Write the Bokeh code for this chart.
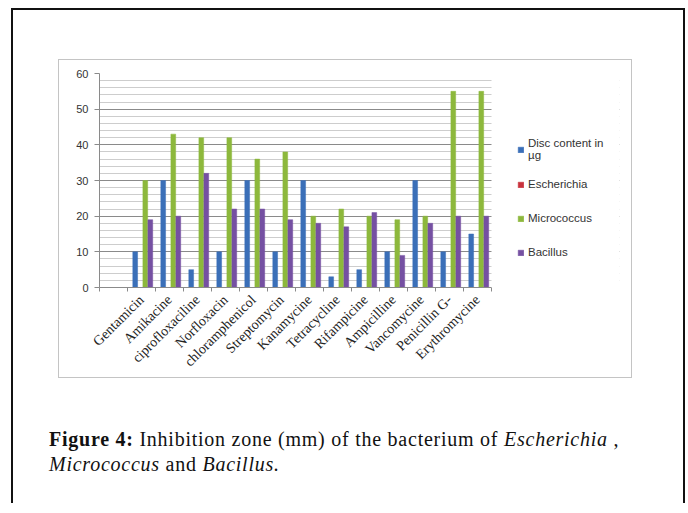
from math import pi
from bokeh.plotting import figure
from bokeh.models import (Range1d, LinearAxis, FixedTicker, Legend, LegendItem, Div,
                          ColumnDataSource, Grid, CustomJSTickFormatter, BoxAnnotation)
from bokeh.transform import dodge
from bokeh.layouts import column
from bokeh.embed import file_html
from bokeh.resources import INLINE

# ---------------- data ----------------
antibiotics = ["Gentamicin", "Amikacine", "ciprofloxaciline", "Norfloxacin", "chloramphenicol",
               "Streptomycin", "Kanamycine", "Tetracycline", "Rifampicine", "Ampicilline",
               "Vancomycine", "Penicillin G-", "Erythromycine"]
disc_content = [10, 30, 5, 10, 30, 10, 30, 3, 5, 10, 30, 10, 15]
escherichia = [0, 0, 0, 0, 0, 0, 0, 0, 0, 0, 0, 0, 0]
micrococcus = [30, 43, 42, 42, 36, 38, 20, 22, 20, 19, 20, 55, 55]
bacillus = [19, 20, 32, 22, 22, 19, 18, 17, 21, 9, 18, 20, 20]
series_names = ["Disc content in\nµg", "Escherichia", "Micrococcus", "Bacillus"]
y_ticks = [0, 10, 20, 30, 40, 50, 60]
y_minor = [0, 2, 4, 6, 8, 10, 12, 14, 16, 18, 20, 22, 24, 26, 28, 30, 32, 34, 36, 38, 40,
           42, 44, 46, 48, 50, 52, 54, 56, 58, 60]

# ---------------- styles ----------------
colors = ["#3a6fb8", "#c8323c", "#8db83c", "#7550a2"]
offsets = [-0.225, -0.045, 0.135, 0.315]
bar_w = 0.17

# category slots: the first slot of the axis is empty, antibiotics occupy slots 1..13
n_slots = len(antibiotics) + 1
centers = [i + 1.5 for i in range(len(antibiotics))]
src = ColumnDataSource(dict(center=centers, disc=disc_content, esch=escherichia,
                            micro=micrococcus, bac=bacillus))

# the frame also holds the legend area to the right of the category slots
frame_w = 572 - 40 - 12
x_end = n_slots * frame_w / 392

p = figure(x_range=Range1d(0, x_end), y_range=Range1d(0, 60),
           width=572, height=317,
           min_border_left=40, min_border_right=12, min_border_top=13, min_border_bottom=88,
           x_axis_location=None, y_axis_location=None,
           output_backend="svg", toolbar_location=None,
           outline_line_color=None, background_fill_color="white", border_fill_color="white")
p.grid.visible = False

yticker = FixedTicker(ticks=y_ticks, minor_ticks=y_minor)
p.add_layout(Grid(dimension=1, ticker=yticker, grid_line_color="#8a8a8a", grid_line_width=1,
                  minor_grid_line_color="#cdcdcd", minor_grid_line_width=1))

yaxis = LinearAxis(ticker=yticker, axis_line_color="#8a8a8a", major_tick_line_color="#8a8a8a",
                   major_tick_out=5, major_tick_in=0, minor_tick_out=0, minor_tick_in=0,
                   major_label_text_font="Liberation Sans", major_label_text_font_size="11px",
                   major_label_text_color="#333333", major_label_standoff=6)
p.add_layout(yaxis, "left")

# tick marks at the category boundaries
bnd_axis = LinearAxis(ticker=FixedTicker(ticks=list(range(n_slots + 1))), bounds=(0, n_slots),
                      formatter=CustomJSTickFormatter(code="return ''"),
                      axis_line_color="#8a8a8a", major_tick_line_color="#8a8a8a",
                      major_tick_out=4, major_tick_in=0, minor_tick_out=0, minor_tick_in=0,
                      major_label_text_font_size="1px", major_label_standoff=0)
p.add_layout(bnd_axis, "below")

# category names at the slot centres
cat_axis = LinearAxis(ticker=FixedTicker(ticks=centers),
                      major_label_overrides={c: name for c, name in zip(centers, antibiotics)},
                      axis_line_color=None, major_tick_line_color=None, minor_tick_line_color=None,
                      major_label_orientation=pi / 4, major_label_standoff=0,
                      major_label_text_font="Liberation Serif", major_label_text_font_size="14px",
                      major_label_text_color="#222222")
p.add_layout(cat_axis, "below")

renderers = []
for col, off, c in zip(["disc", "esch", "micro", "bac"], offsets, colors):
    r = p.vbar(x=dodge("center", off), top=col, width=bar_w, source=src,
               fill_color=c, line_color=c, line_width=0.5)
    renderers.append(r)

# blank the gridlines to the right of the plot area (legend area)
p.add_layout(BoxAnnotation(left=n_slots, fill_color="white", fill_alpha=1.0, line_alpha=0))

legend = Legend(items=[LegendItem(label=n, renderers=[r]) for n, r in zip(series_names, renderers)],
                location=(418, 24), margin=0, padding=0, spacing=12,
                glyph_width=7, glyph_height=7, label_height=22, label_standoff=4,
                label_text_font="Liberation Sans", label_text_font_size="11.5px",
                label_text_color="#333333", border_line_color=None, background_fill_alpha=0)
p.add_layout(legend)
p.margin = (50, 0, 0, 46)
p.styles = {"outline": "1.5px solid #c4c4c4"}

caption = Div(text='<b>Figure 4:</b> Inhibition zone (mm) of the bacterium of <i>Escherichia</i> ,<br>'
                   '<i>Micrococcus</i> and <i>Bacillus.</i>',
              width=630, height=60, margin=(50, 0, 0, 36),
              styles={"font-family": "Liberation Serif", "font-size": "20px", "line-height": "25px",
                      "letter-spacing": "0.75px", "color": "#111111", "white-space": "nowrap"})

page = column(p, caption, margin=(8, 0, 0, 11),
              styles={"border-left": "2px solid #111", "border-top": "2px solid #111",
                      "border-right": "2px solid #111", "width": "674px", "height": "495px"})

open("out.html", "w").write(file_html(page, INLINE))
